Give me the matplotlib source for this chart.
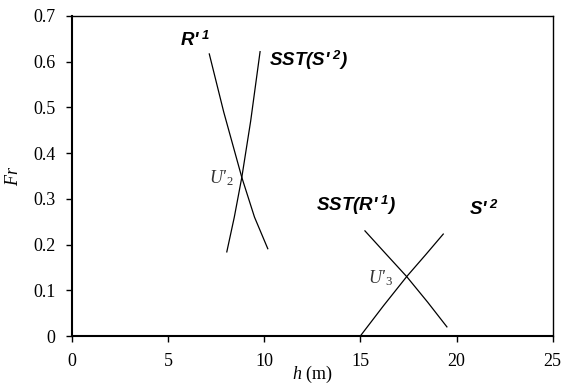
import matplotlib
matplotlib.use("Agg")
import matplotlib.pyplot as plt

# curves in the (h, Fr) plane
h_R1 = [7.15, 7.9, 8.84, 9.5, 10.19]
Fr_R1 = [0.617, 0.49, 0.347, 0.26, 0.191]

h_SST_S2 = [9.79, 9.3, 8.84, 8.45, 8.06]
Fr_SST_S2 = [0.622, 0.47, 0.347, 0.26, 0.184]

h_SST_R1 = [15.24, 16.3, 17.41, 18.5, 19.5]
Fr_SST_R1 = [0.230, 0.181, 0.130, 0.074, 0.02]

h_S2 = [15.0, 16.2, 17.41, 18.4, 19.31]
Fr_S2 = [0.0, 0.066, 0.130, 0.178, 0.223]

xticks = [0, 5, 10, 15, 20, 25]
yticks = [0, 0.1, 0.2, 0.3, 0.4, 0.5, 0.6, 0.7]
yticklabels = ["0", "0.1", "0.2", "0.3", "0.4", "0.5", "0.6", "0.7"]

plt.rcParams['font.family'] = 'Liberation Serif'
plt.rcParams['mathtext.fontset'] = 'custom'
plt.rcParams['mathtext.rm'] = 'Liberation Serif'
plt.rcParams['mathtext.it'] = 'Liberation Serif:italic'
plt.rcParams['mathtext.bf'] = 'Liberation Sans:bold:italic'

fig = plt.figure(figsize=(5.71, 3.89), dpi=100)
ax = fig.add_axes([0.1256, 0.1362, 0.8424, 0.8227])

for xs, ys in [(h_R1, Fr_R1), (h_SST_S2, Fr_SST_S2), (h_SST_R1, Fr_SST_R1), (h_S2, Fr_S2)]:
    ax.plot(xs, ys, color='black', lw=0.9)

ax.set_xlim(0, 25)
ax.set_ylim(0, 0.7)
ax.set_xticks(xticks)
ax.set_yticks(yticks)
ax.set_yticklabels(yticklabels)
ax.tick_params(direction='out', length=4, width=1, labelsize=13)
ax.tick_params(axis='x', pad=8.5)
ax.tick_params(axis='y', pad=7.5)
for s in ax.spines.values():
    s.set_linewidth(1.0)
ax.spines['left'].set_linewidth(1.5)
ax.spines['bottom'].set_linewidth(1.5)

ax.set_xlabel(r"$h$ (m)", fontsize=13, labelpad=-5)
ax.set_ylabel(r"$Fr$", fontsize=13, labelpad=8)

lab = dict(fontfamily='Liberation Sans', fontweight='bold', fontstyle='italic',
           fontsize=13.5, va='baseline')
ax.text(5.63, 0.634, r"R'$\;^{\mathbf{1}}$", **lab)
ax.text(10.25, 0.591, r"SST(S'$\;^{\mathbf{2}}$)", **lab)
ax.text(12.70, 0.273, r"SST(R'$\;^{\mathbf{1}}$)", **lab)
ax.text(20.65, 0.265, r"S'$\;^{\mathbf{2}}$", **lab)

ax.text(7.15, 0.335, r"U'$_{2}$", fontsize=13, fontstyle='italic', color='#333333', va='baseline')
ax.text(15.4, 0.116, r"U'$_{3}$", fontsize=13, fontstyle='italic', color='#333333', va='baseline')

fig.savefig("out.png", dpi=100)
